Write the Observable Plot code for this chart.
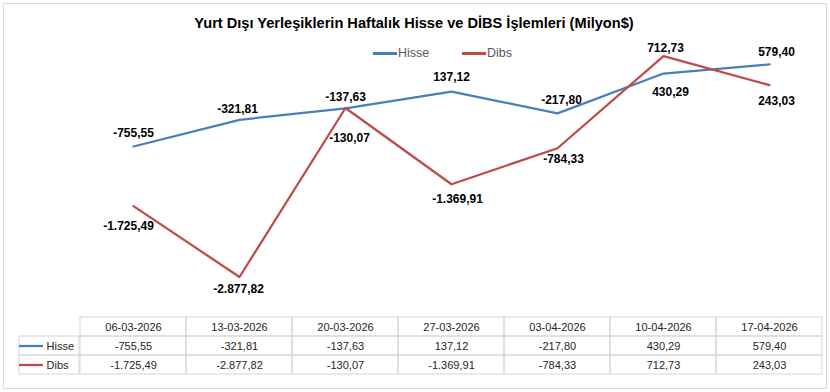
<!DOCTYPE html>
<html><head><meta charset="utf-8">
<script src="https://cdn.jsdelivr.net/npm/d3@7"></script>
<script src="https://cdn.jsdelivr.net/npm/@observablehq/plot@0.6"></script>
<style>
body{margin:0;background:#fff;}
#wrap{position:relative;width:830px;height:392px;font-family:"Liberation Sans",Arial,sans-serif;overflow:hidden;background:#fff}
#frame{position:absolute;left:3px;top:3px;width:822px;height:384px;border:1px solid #d9d9d9;box-sizing:content-box}
#title{position:absolute;left:0;width:828px;top:15px;line-height:17px;text-align:center;font-weight:bold;font-size:14.6px;color:#000;z-index:2}
.abs{position:absolute;left:0;top:0}
.lg-sw{position:absolute;height:2.5px}
.lg-tx{position:absolute;font-size:12.5px;line-height:14px;color:#595959}
</style></head>
<body>
<div id="wrap">
  <div id="frame"></div>
  <div id="title">Yurt Dışı Yerleşiklerin Haftalık Hisse ve DİBS İşlemleri (Milyon$)</div>
  <div id="legend"></div>
  <div id="chart" class="abs"></div>
  <div id="table" class="abs" style="top:300px"></div>
</div>
<script>
// ---- data ----
const dates = ["06-03-2026","13-03-2026","20-03-2026","27-03-2026","03-04-2026","10-04-2026","17-04-2026"];
const hisse = [-755.55, -321.81, -137.63, 137.12, -217.80, 430.29, 579.40];
const dibs  = [-1725.49, -2877.82, -130.07, -1369.91, -784.33, 712.73, 243.03];
const seriesNames = ["Hisse", "Dibs"];

// ---- styles ----
const colors = ["#4a7ebb", "#be4b48"];
const labelDx = {Hisse: [0, -2, 0, 0, 4, 7, 7], Dibs: [-5, -1, 4, 6, 6, 2, 7]};
const labelDy = {Hisse: [-13, -11, -11, -14, -13, 19, -12], Dibs: [20, 12, 30, 15, 11, -8, 16]};
const font = "'Liberation Sans', Arial, sans-serif";

const fmt = d3.formatLocale({decimal: ",", thousands: ".", grouping: [3], currency: ["", ""], minus: "-"}).format(",.2f");

const seriesValues = {Hisse: hisse, Dibs: dibs};
const rows = seriesNames.flatMap(s => dates.map((d, i) => ({date: d, series: s, value: seriesValues[s][i], i})));

// legend
const legend = document.getElementById("legend");
const legendX = [373, 462];
seriesNames.forEach((s, k) => {
  const sw = document.createElement("div");
  sw.className = "lg-sw";
  sw.style.left = legendX[k] + "px"; sw.style.top = "52px"; sw.style.width = "24px";
  sw.style.background = colors[k];
  legend.appendChild(sw);
  const tx = document.createElement("div");
  tx.className = "lg-tx";
  tx.style.left = (legendX[k] + 25) + "px"; tx.style.top = "46px";
  tx.textContent = s;
  legend.appendChild(tx);
});

const labelMarks = rows.map(r => Plot.text([r], {
  x: "date", y: "value", text: d => fmt(d.value),
  dx: labelDx[r.series][r.i], dy: labelDy[r.series][r.i],
  fontSize: 12, fontWeight: "bold", fill: "#000"
}));

const chart = Plot.plot({
  width: 830, height: 300,
  marginTop: 38, marginBottom: 16, marginLeft: 77, marginRight: 5,
  style: {fontFamily: font, background: "transparent", overflow: "visible"},
  x: {type: "point", domain: dates, padding: 0.5, axis: null},
  y: {domain: [-3000, 1000], axis: null},
  color: {domain: seriesNames, range: colors},
  marks: [
    Plot.line(rows, {x: "date", y: "value", stroke: "series", strokeWidth: 2.25, strokeLinejoin: "round"}),
    ...labelMarks
  ]
});
document.getElementById("chart").appendChild(chart);

// data table
const cells = dates.flatMap((d, i) => [
  {date: d, row: "hdr", label: d},
  {date: d, row: "Hisse", label: fmt(hisse[i])},
  {date: d, row: "Dibs", label: fmt(dibs[i])}
]);
const table = Plot.plot({
  width: 830, height: 92,
  marginTop: 17, marginBottom: 18, marginLeft: 77, marginRight: 5,
  style: {fontFamily: font, background: "transparent", overflow: "visible"},
  x: {type: "band", domain: dates, padding: 0, axis: null},
  y: {type: "band", domain: ["hdr", ...seriesNames], padding: 0, axis: null},
  color: {domain: seriesNames, range: colors},
  marks: [
    Plot.cell(cells, {x: "date", y: "row", fill: "none", stroke: "#d6d6d6"}),
    Plot.cell(seriesNames, {x: () => dates[0], y: d => d, fill: "none", stroke: "#d6d6d6", dx: -107, insetLeft: 46}),
    Plot.text(cells, {x: "date", y: "row", text: "label", fontSize: 11, fill: "#262626"}),
    Plot.text(seriesNames, {x: () => dates[0], y: d => d, text: d => d, textAnchor: "start", dx: -87, fontSize: 11, fill: "#262626"}),
    Plot.ruleY(seriesNames, {y: d => d, stroke: d => d, strokeWidth: 2.25, insetLeft: -58, insetRight: 782})
  ]
});
document.getElementById("table").appendChild(table);
</script>
</body></html>
